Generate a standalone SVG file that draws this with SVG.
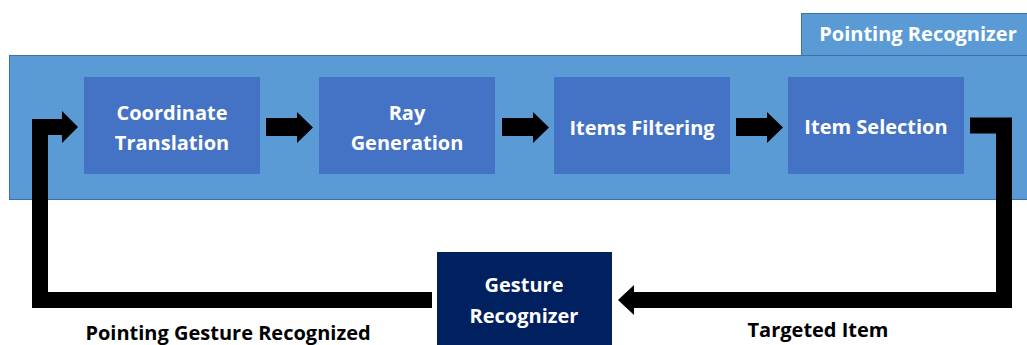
<svg xmlns="http://www.w3.org/2000/svg" width="1027" height="345" viewBox="0 0 1027 345">
<style>
.container{fill:#5B9BD5;stroke:#41719C;stroke-width:1}
.box{fill:#4472C4}
.dark{fill:#002060}
.t{font-family:"Open Sans","Liberation Sans",sans-serif;font-weight:bold;font-size:20px;fill:#FFFFFF;text-anchor:middle;dominant-baseline:central}
.lbl{font-family:"Open Sans","Liberation Sans",sans-serif;font-weight:bold;font-size:20px;fill:#000000;text-anchor:middle;dominant-baseline:central}
.line{fill:none;stroke:#000;stroke-width:16;stroke-linejoin:miter}
.head{fill:#000}
</style>
<g id="pointing-recognizer">
<rect class="container" x="9.5" y="55.5" width="1030" height="144"/>
<rect class="container" x="801.5" y="13.5" width="240" height="42"/>
<text class="t" x="918" y="33">Pointing Recognizer</text>
</g>
<g id="coordinate-translation">
<rect class="box" x="84" y="77" width="176" height="97"/>
<text class="t" x="172" y="112">Coordinate</text>
<text class="t" x="172" y="142">Translation</text>
</g>
<g id="ray-generation">
<rect class="box" x="319" y="77" width="176" height="97"/>
<text class="t" x="407" y="112">Ray</text>
<text class="t" x="407" y="142">Generation</text>
</g>
<g id="items-filtering">
<rect class="box" x="554" y="77" width="176" height="97"/>
<text class="t" x="642" y="127">Items Filtering</text>
</g>
<g id="item-selection">
<rect class="box" x="788" y="77" width="176" height="97"/>
<text class="t" x="876" y="126">Item Selection</text>
</g>
<g id="gesture-recognizer">
<rect class="dark" x="437" y="252" width="175" height="100"/>
<text class="t" x="524" y="284">Gesture</text>
<text class="t" x="524" y="315">Recognizer</text>
</g>
<g id="connectors">
<path class="head" d="M266,118 H297 V112 L313,127.5 L297,143 V136 H266 Z"/>
<path class="head" d="M502,118 H533 V112 L549,127.5 L533,143 V136 H502 Z"/>
<path class="head" d="M736,118 H767 V112 L783,127.5 L767,143 V136 H736 Z"/>
<path class="line" d="M970,125.5 H1004 V300 H632"/>
<path class="head" d="M634,285 L618,300 L634,315 Z"/>
<path class="line" d="M432,300 H40 V127 H64"/>
<path class="head" d="M62,111 L78,127 L62,143 Z"/>
<text class="lbl" x="228" y="332">Pointing Gesture Recognized</text>
<text class="lbl" x="818" y="329">Targeted Item</text>
</g>
</svg>
